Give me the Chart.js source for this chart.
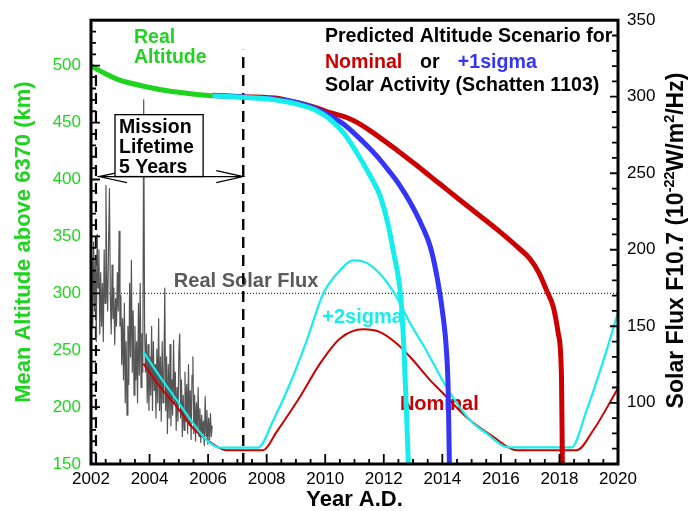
<!DOCTYPE html>
<html>
<head>
<meta charset="utf-8">
<script src="https://cdn.jsdelivr.net/npm/chart.js@4.4.1/dist/chart.umd.min.js"></script>
<style>
  html, body { margin: 0; padding: 0; background: #ffffff; }
  #wrap { width: 693px; height: 511px; }
</style>
</head>
<body>
<div id="wrap"><canvas id="chart" width="693" height="511"></canvas></div>
<script>
// ---- axis ticks ----
const yearTicks = [2002, 2004, 2006, 2008, 2010, 2012, 2014, 2016, 2018, 2020];
const altTicks = [150, 200, 250, 300, 350, 400, 450, 500];
const fluxTicks = [100, 150, 200, 250, 300, 350];

// ---- measured mean altitude (km above 6370) ----
const realAltYears = [2002.0, 2002.2, 2002.5, 2002.9, 2003.3, 2003.8, 2004.5, 2005.2, 2005.7, 2006.15];
const realAlt      = [500, 497, 493, 488, 485, 482, 478.5, 476, 474.5, 473.5];

// ---- predicted altitude, nominal solar activity ----
const nomAltYears = [2006.15, 2007.2, 2008.45, 2008.8, 2009.3, 2009.71, 2010.16, 2010.73, 2011.1, 2011.53,
                     2012.44, 2013.12, 2013.58, 2013.92, 2014.6, 2015.29, 2015.97, 2016.6, 2016.99, 2017.3,
                     2017.56, 2017.79, 2017.96, 2018.07, 2018.1];
const nomAlt      = [474, 472.8, 471, 468.8, 466, 463, 458.8, 454.5, 450, 443,
                     426, 412.5, 403, 396, 382, 368, 354, 340, 330.4, 318,
                     302.6, 288, 264.6, 226.6, 150];

// ---- predicted altitude, +1 sigma solar activity ----
const sig1AltYears = [2006.15, 2007.2, 2008.45, 2009.02, 2009.71, 2010.16, 2010.61, 2011.3, 2011.75, 2012.21,
                      2012.55, 2012.9, 2013.3, 2013.6, 2013.86, 2014.03, 2014.14, 2014.2, 2014.24];
const sig1Alt      = [473.8, 472.5, 470.3, 467.8, 462, 456, 449, 433, 421, 406.5,
                      394.7, 380, 359.6, 340, 308.5, 279, 250, 215, 150];

// ---- predicted altitude, +2 sigma solar activity ----
const sig2AltYears = [2006.15, 2007.2, 2008.0, 2008.45, 2009.02, 2009.71, 2010.16, 2010.61, 2011.07, 2011.53,
                      2011.87, 2012.15, 2012.32, 2012.59, 2012.69, 2012.76, 2012.84];
const sig2Alt      = [473.5, 472.2, 471, 469.3, 466.4, 460.5, 453, 441.5, 424, 403.5,
                      386, 360, 337.7, 294, 250, 206, 150];

// ---- solar flux F10.7 predictions ----
const nomFluxYears = [2003.79, 2004.36, 2004.93, 2005.49, 2006.06, 2006.63, 2007.88, 2008.34, 2009.14, 2009.82,
                      2010.5, 2011.3, 2011.87, 2012.44, 2013.0, 2013.58, 2013.92, 2014.94, 2015.74, 2016.54,
                      2018.59, 2019.16, 2020.0];
const nomFlux      = [125.6, 110.4, 97.4, 83.3, 74.5, 69, 69, 81, 103.9, 125.6,
                      141.9, 148, 146.2, 138.7, 127.8, 114.8, 108.2, 88.7, 77.8, 69,
                      69, 82.2, 109.5];

const sig2FluxYears = [2003.79, 2004.36, 2004.93, 2005.49, 2005.95, 2006.41, 2007.71, 2008.23, 2008.8, 2009.37,
                       2009.93, 2010.5, 2010.96, 2011.3, 2011.87, 2012.38, 2012.9, 2013.4, 2014.15, 2014.94,
                       2015.51, 2016.25, 2018.41, 2018.93, 2019.61, 2020.0];
const sig2Flux      = [133.2, 116.9, 101.7, 86.5, 75.6, 70.7, 70.7, 88.7, 112.6, 140.8,
                       171.3, 186.5, 193, 192.3, 184.3, 171, 152, 136, 110, 88.7,
                       80, 70.8, 70.8, 95.2, 134.3, 159];

// ---- observed solar flux F10.7, sampled every 0.03 yr from 2002.0 ----
const realFluxStart = 2002.0;
const realFluxStep = 0.03;
const realFlux = [
  170, 195, 150, 205, 160, 193, 140, 210, 175, 200,
  145, 185, 150, 178, 140, 200, 165, 242, 180, 160,
  205, 240, 170, 145, 190, 155, 175, 138, 168, 150,
  185, 160, 212, 150, 170, 125, 155, 115, 165, 100,
  140, 92, 150, 112, 178, 130, 193, 120, 160, 105,
  150, 115, 140, 100, 165, 118, 178, 110, 145, 120,
  298, 150, 120, 145, 100, 138, 95, 130, 105, 150,
  95, 140, 108, 125, 90, 135, 100, 155, 95, 130,
  88, 140, 100, 120, 175, 95, 130, 80, 125, 90,
  138, 85, 115, 92, 141, 100, 120, 82, 110, 88,
  132, 145, 90, 115, 78, 105, 82, 120, 88, 112,
  80, 125, 85, 108, 76, 118, 130, 80, 105, 75,
  100, 82, 110, 78, 96, 74, 92, 80, 88, 72,
  104, 78, 95, 73, 90, 76, 93, 78, 85
];

// ---- reference lines ----
const refAltLevel = 300;            // dotted horizontal reference (km)
const launchYear = 2002.17;         // start of mission
const missionEndYear = 2007.2;      // nominal end of 5-year mission

const GREEN = '#1fd41f';
const RED = '#cc0000';
const BLUE = '#3535f5';
const CYAN = '#16eeee';
const GREY = '#555555';
const FONT = '"Liberation Sans", Arial, Helvetica, sans-serif';

const pts = (xs, ys) => xs.map((x, i) => ({ x: x, y: ys[i] }));
const realFluxPts = realFlux.map((v, i) => ({ x: realFluxStart + i * realFluxStep, y: v }));

function txt(ctx, s, x, y, color, size, align) {
  ctx.save();
  ctx.font = 'bold ' + size + 'px ' + FONT;
  ctx.fillStyle = color;
  ctx.textAlign = align || 'left';
  ctx.textBaseline = 'middle';
  ctx.fillText(s, x, y);
  ctx.restore();
}

const decorations = {
  id: 'decorations',
  beforeDatasetsDraw(chart) {
    const ctx = chart.ctx;
    const xs = chart.scales.x, ya = chart.scales.yAlt;
    // in-plot labels that lie beneath the curves
    txt(ctx, 'Real Solar Flux', xs.getPixelForValue(2004.83), ya.getPixelForValue(310.5), '#5a5a5a', 20);
    txt(ctx, '+2sigma', xs.getPixelForValue(2009.9), ya.getPixelForValue(279), CYAN, 20);
    txt(ctx, 'Nominal', xs.getPixelForValue(2012.55), ya.getPixelForValue(202.6), RED, 20);
  },
  afterDatasetsDraw(chart) {
    const ctx = chart.ctx;
    const ca = chart.chartArea;
    const xs = chart.scales.x, ya = chart.scales.yAlt, yf = chart.scales.yFlux;

    // mission lifetime arrow
    const ay = ya.getPixelForValue(402.6);
    const ax0 = xs.getPixelForValue(launchYear) + 3;
    const ax1 = xs.getPixelForValue(missionEndYear);
    ctx.save();
    ctx.strokeStyle = '#000';
    ctx.lineWidth = 1.2;
    ctx.beginPath();
    ctx.moveTo(ax0, ay); ctx.lineTo(ax1, ay);
    ctx.moveTo(ax0 + 28, ay - 6); ctx.lineTo(ax0, ay); ctx.lineTo(ax0 + 28, ay + 6);
    ctx.moveTo(ax1 - 27, ay - 6); ctx.lineTo(ax1, ay); ctx.lineTo(ax1 - 27, ay + 6);
    ctx.stroke();
    ctx.restore();

    // mission lifetime box
    const bx0 = xs.getPixelForValue(2002.82), bx1 = xs.getPixelForValue(2005.83);
    const by0 = ya.getPixelForValue(457), by1 = ay;
    ctx.save();
    ctx.fillStyle = '#fff';
    ctx.fillRect(bx0, by0, bx1 - bx0, by1 - by0);
    ctx.strokeStyle = '#000';
    ctx.lineWidth = 1.3;
    ctx.strokeRect(bx0, by0, bx1 - bx0, by1 - by0);
    ctx.restore();
    txt(ctx, 'Mission', bx0 + 4, by0 + 12.5, '#000', 19.5);
    txt(ctx, 'Lifetime', bx0 + 4, by0 + 33, '#000', 19.5);
    txt(ctx, '5 Years', bx0 + 4, by0 + 53, '#000', 19.5);

    // top-left and top-right captions
    txt(ctx, 'Real', xs.getPixelForValue(2003.47), ya.getPixelForValue(524.6), GREEN, 19.5);
    txt(ctx, 'Altitude', xs.getPixelForValue(2003.47), ya.getPixelForValue(507), GREEN, 19.5);
    const tx = xs.getPixelForValue(2009.99);
    txt(ctx, 'Predicted Altitude Scenario for', tx, ya.getPixelForValue(525.4), '#000', 19.6);
    txt(ctx, 'Nominal', tx, ya.getPixelForValue(502.6), RED, 19.6);
    txt(ctx, 'or', xs.getPixelForValue(2013.24), ya.getPixelForValue(502.6), '#000', 19.6);
    txt(ctx, '+1sigma', xs.getPixelForValue(2014.53), ya.getPixelForValue(502.6), BLUE, 19.6);
    txt(ctx, 'Solar Activity (Schatten 1103)', tx, ya.getPixelForValue(482.5), '#000', 19.6);

    // frame
    ctx.save();
    ctx.strokeStyle = '#000';
    ctx.lineWidth = 3;
    ctx.strokeRect(ca.left, ca.top, ca.right - ca.left, ca.bottom - ca.top);

    // inward tick marks
    ctx.lineWidth = 1.8;
    ctx.beginPath();
    for (let v = 2002; v <= 2020.001; v += 0.5) {
      const p = xs.getPixelForValue(v);
      const len = Math.abs(v - Math.round(v / 2) * 2) < 1e-6 ? 10 : 5;
      ctx.moveTo(p, ca.bottom); ctx.lineTo(p, ca.bottom - len);
    }
    for (let v = 160; v <= 540; v += 10) {
      const p = ya.getPixelForValue(v);
      const len = v % 50 === 0 ? 9 : 5;
      ctx.moveTo(ca.left, p); ctx.lineTo(ca.left + len, p);
    }
    for (let v = 70; v <= 340; v += 10) {
      const p = yf.getPixelForValue(v);
      const len = v % 50 === 0 ? 8 : 6;
      ctx.moveTo(ca.right, p); ctx.lineTo(ca.right - len, p);
    }
    ctx.stroke();
    ctx.restore();
  },
  afterDraw(chart) {
    // right axis title with superscripts, reading upward
    const ctx = chart.ctx;
    const parts = [
      ['Solar Flux F10.7 (10', false], ['-22', true], ['W/m', false], ['2', true], ['/Hz)', false]
    ];
    const big = 'bold 23px ' + FONT, small = 'bold 14.5px ' + FONT;
    ctx.save();
    let total = 0;
    parts.forEach(p => { ctx.font = p[1] ? small : big; total += ctx.measureText(p[0]).width; });
    ctx.translate(677, 240.5);
    ctx.rotate(-Math.PI / 2);
    ctx.fillStyle = '#000';
    ctx.textBaseline = 'middle';
    ctx.textAlign = 'left';
    let x = -total / 2;
    parts.forEach(p => {
      ctx.font = p[1] ? small : big;
      ctx.fillText(p[0], x, p[1] ? -7.5 : 0);
      x += ctx.measureText(p[0]).width;
    });
    ctx.restore();
  }
};

new Chart(document.getElementById('chart'), {
  type: 'line',
  data: {
    datasets: [
      { label: 'ref300', data: [{ x: 2002, y: refAltLevel }, { x: 2020, y: refAltLevel }], yAxisID: 'yAlt',
        borderColor: '#000', borderWidth: 1, borderDash: [1, 2], order: 20 },
      { label: 'launch', data: [{ x: launchYear, y: 150 }, { x: launchYear, y: 494 }], yAxisID: 'yAlt',
        borderColor: '#000', borderWidth: 2.2, borderDash: [11, 7], order: 19 },
      { label: 'missionEnd', data: [{ x: missionEndYear, y: 150 }, { x: missionEndYear, y: 514 }], yAxisID: 'yAlt',
        borderColor: '#000', borderWidth: 2.4, borderDash: [11, 7], order: 18 },
      { label: 'Real Solar Flux', data: realFluxPts, yAxisID: 'yFlux',
        borderColor: GREY, borderWidth: 1.2, order: 15 },
      { label: 'Nominal flux', data: pts(nomFluxYears, nomFlux), yAxisID: 'yFlux',
        borderColor: RED, borderWidth: 2, cubicInterpolationMode: 'monotone', order: 12 },
      { label: '+2sigma flux', data: pts(sig2FluxYears, sig2Flux), yAxisID: 'yFlux',
        borderColor: CYAN, borderWidth: 2.2, cubicInterpolationMode: 'monotone', order: 11 },
      { label: 'Nominal altitude', data: pts(nomAltYears, nomAlt), yAxisID: 'yAlt',
        borderColor: RED, borderWidth: 5, cubicInterpolationMode: 'monotone', order: 6 },
      { label: '+1sigma altitude', data: pts(sig1AltYears, sig1Alt), yAxisID: 'yAlt',
        borderColor: BLUE, borderWidth: 5, cubicInterpolationMode: 'monotone', order: 5 },
      { label: '+2sigma altitude', data: pts(sig2AltYears, sig2Alt), yAxisID: 'yAlt',
        borderColor: CYAN, borderWidth: 5, cubicInterpolationMode: 'monotone', order: 4 },
      { label: 'Real Altitude', data: pts(realAltYears, realAlt), yAxisID: 'yAlt',
        borderColor: GREEN, borderWidth: 5, cubicInterpolationMode: 'monotone', order: 1 }
    ]
  },
  options: {
    responsive: false,
    animation: false,
    devicePixelRatio: 1,
    layout: { padding: { top: 19, left: 0, right: 0, bottom: 0 } },
    elements: { point: { radius: 0 }, line: { borderCapStyle: 'butt', borderJoinStyle: 'round' } },
    plugins: { legend: { display: false }, tooltip: { enabled: false } },
    scales: {
      x: {
        type: 'linear', min: 2002, max: 2020,
        grid: { display: false, drawTicks: false }, border: { display: false },
        afterBuildTicks: s => { s.ticks = yearTicks.map(v => ({ value: v })); },
        afterFit: s => { s.height = 47; },
        ticks: { color: '#000', padding: 5, maxRotation: 0, font: { family: FONT, size: 17 },
                 callback: v => String(v) },
        title: { display: true, text: 'Year A.D.', color: '#000', padding: { top: 0, bottom: 0 },
                 font: { family: FONT, size: 22, weight: 'bold', lineHeight: 1 } }
      },
      yAlt: {
        type: 'linear', position: 'left', min: 150, max: 540,
        grid: { display: false, drawTicks: false }, border: { display: false },
        afterBuildTicks: s => { s.ticks = altTicks.map(v => ({ value: v })); },
        afterFit: s => { s.width = 91; },
        ticks: { color: GREEN, padding: 10, font: { family: FONT, size: 17 } },
        title: { display: true, text: 'Mean Altitude above 6370 (km)', color: GREEN, padding: { top: 13, bottom: 0 },
                 font: { family: FONT, size: 22, weight: 'bold', lineHeight: 1 } }
      },
      yFlux: {
        type: 'linear', position: 'right', min: 60, max: 350,
        grid: { display: false, drawTicks: false }, border: { display: false },
        afterBuildTicks: s => { s.ticks = fluxTicks.map(v => ({ value: v })); },
        afterFit: s => { s.width = 75; },
        ticks: { color: '#000', padding: 9, font: { family: FONT, size: 17 } }
      }
    }
  },
  plugins: [decorations]
});
</script>
</body>
</html>
